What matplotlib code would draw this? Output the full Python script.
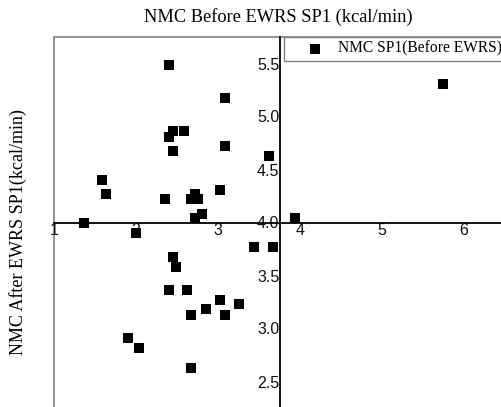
import matplotlib
matplotlib.use('Agg')
import matplotlib.pyplot as plt
from matplotlib.patches import Rectangle

# data
before_sp1 = [2.40, 3.08, 2.45, 2.40, 2.58, 2.45, 3.08, 3.62, 1.58, 1.63,
              2.35, 3.03, 2.72, 2.67, 2.76, 2.81, 2.72, 1.36, 2.00, 3.94,
              5.74, 3.44, 3.67, 2.45, 2.49, 2.40, 2.62, 3.03, 3.26, 2.85,
              2.67, 3.08, 1.90, 2.04, 2.67]
after_sp1 = [5.49, 5.17, 4.86, 4.81, 4.86, 4.67, 4.72, 4.63, 4.40, 4.27,
             4.22, 4.31, 4.27, 4.22, 4.22, 4.08, 4.04, 4.00, 3.90, 4.04,
             5.31, 3.77, 3.77, 3.67, 3.58, 3.36, 3.36, 3.27, 3.23, 3.18,
             3.13, 3.13, 2.91, 2.82, 2.63]
xticks = [1, 2, 3, 4, 5, 6]
yticks = [2.5, 3.0, 3.5, 4.0, 4.5, 5.0, 5.5]

W, H = 502, 407
fig = plt.figure(figsize=(W / 100, H / 100), dpi=100)

# axes box runs past the right and bottom edge of the picture
x0, x1 = 1, 7
y0, y1 = 2.0, 5.75
pxx, pxy = 82, 106
left, top = 54, 37
aw = (x1 - x0) * pxx
ah = (y1 - y0) * pxy
ax = fig.add_axes([left / W, (H - top - ah) / H, aw / W, ah / H])
ax.set_xlim(x0, x1)
ax.set_ylim(y0, y1)

ax.scatter(before_sp1, after_sp1, marker='s', s=45, color='black',
           linewidths=0, label='NMC SP1(Before EWRS)', zorder=3)

for s in ['top', 'right']:
    ax.spines[s].set_visible(False)
ax.spines['left'].set_position(('data', 3.756))
ax.spines['bottom'].set_position(('data', 4.0))
ax.spines['left'].set_linewidth(1.3)
ax.spines['bottom'].set_linewidth(1.3)
ax.add_patch(Rectangle((0, 0), 1, 1, transform=ax.transAxes, fill=False,
                       edgecolor='#808080', linewidth=1.2, clip_on=False, zorder=1))

ax.set_xticks(xticks)
ax.set_yticks(yticks)
ax.set_yticklabels(['%.1f' % v for v in yticks])
ax.tick_params(length=0, labelsize=11.5, labelcolor='#111111', pad=0.5)
for lab in ax.get_xticklabels() + ax.get_yticklabels():
    lab.set_family('Liberation Sans')

fig.text(278 / W, 1 - 17 / H, 'NMC Before EWRS SP1 (kcal/min)', ha='center',
         va='center', fontsize=13.2, family='Liberation Serif')
fig.text(18 / W, 1 - 232 / H, 'NMC After EWRS SP1(kcal/min)', ha='center',
         va='center', rotation=90, fontsize=13, family='Liberation Serif')

leg = fig.legend(loc='upper left', bbox_to_anchor=(284 / W, 1 - 37 / H),
                 borderaxespad=0, fancybox=False, framealpha=1,
                 edgecolor='#808080', prop={'family': 'Liberation Serif', 'size': 11.2},
                 borderpad=0.25, handlelength=3.5, handletextpad=-0.3,
                 scatterpoints=1, markerscale=1.0)
leg.get_frame().set_linewidth(1.0)

fig.savefig('out.png', dpi=100)
